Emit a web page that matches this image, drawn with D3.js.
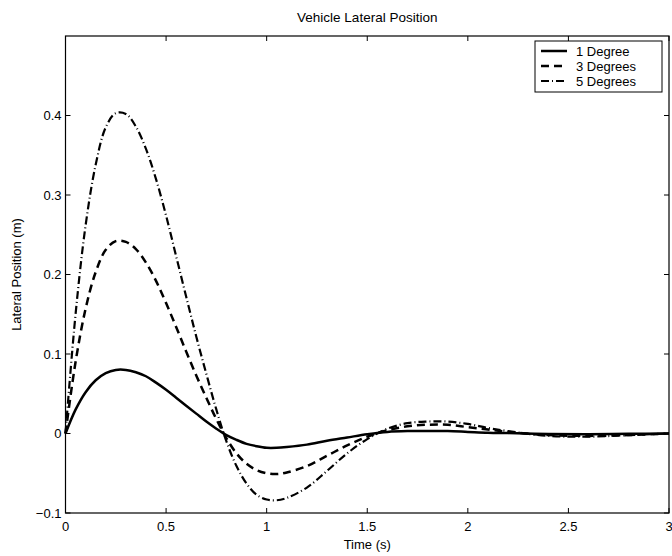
<!DOCTYPE html>
<html>
<head>
<meta charset="utf-8">
<script src="https://cdn.jsdelivr.net/npm/d3@7"></script>
<style>
  body { margin: 0; background: #fff; }
  text { font-family: "Liberation Sans", Arial, sans-serif; fill: #000; }
</style>
</head>
<body>
<div id="chart"></div>
<script>
// time samples (s)
const times = [0, 0.05, 0.1, 0.15, 0.2, 0.25, 0.3, 0.35, 0.4, 0.45, 0.5, 0.55, 0.6, 0.65, 0.7, 0.75,
  0.8, 0.85, 0.9, 0.95, 1.0, 1.05, 1.1, 1.2, 1.3, 1.4, 1.5, 1.6, 1.7, 1.8, 1.9, 2.0, 2.1, 2.2,
  2.4, 2.6, 2.8, 3.0];

// lateral position (m)
const deg1 = [0, 0.030, 0.052, 0.067, 0.076, 0.080, 0.080, 0.077, 0.072, 0.064, 0.055, 0.045,
  0.035, 0.025, 0.015, 0.006, -0.002, -0.008, -0.013, -0.016, -0.018, -0.018, -0.017, -0.014,
  -0.009, -0.005, -0.001, 0.002, 0.003, 0.003, 0.003, 0.002, 0.001, 0.0005, -0.0005, -0.0008,
  -0.0004, 0];
const deg3 = [0, 0.090, 0.157, 0.203, 0.231, 0.242, 0.241, 0.232, 0.215, 0.192, 0.164, 0.134,
  0.103, 0.073, 0.045, 0.018, -0.006, -0.025, -0.038, -0.046, -0.050, -0.051, -0.049, -0.041,
  -0.028, -0.015, -0.004, 0.004, 0.009, 0.011, 0.011, 0.008, 0.005, 0.002, -0.002, -0.003,
  -0.002, 0];
const deg5 = [0, 0.150, 0.262, 0.338, 0.385, 0.403, 0.402, 0.386, 0.358, 0.320, 0.274, 0.223,
  0.172, 0.122, 0.075, 0.030, -0.010, -0.041, -0.063, -0.077, -0.083, -0.084, -0.081, -0.068,
  -0.047, -0.025, -0.007, 0.006, 0.013, 0.015, 0.015, 0.012, 0.007, 0.003, -0.003, -0.004,
  -0.002, 0];

const seriesNames = [`1 Degree`, `3 Degrees`, `5 Degrees`];
const xTicks = [0, 0.5, 1, 1.5, 2, 2.5, 3];
const yTicks = [-0.1, 0, 0.1, 0.2, 0.3, 0.4];

const W = 672, H = 556;
const M = {left: 65.5, right: 669, top: 36, bottom: 513};

const svg = d3.select(`#chart`).append(`svg`)
  .attr(`width`, W).attr(`height`, H);

const x = d3.scaleLinear().domain([0, 3]).range([M.left, M.right]);
const y = d3.scaleLinear().domain([-0.1, 0.5]).range([M.bottom, M.top]);

// line styles per series
const styles = [
  {dash: null, width: 2.5},
  {dash: `8,5`, width: 2.5},
  {dash: `8,3,1,3`, width: 2.2}
];

// plot box
svg.append(`rect`)
  .attr(`x`, M.left).attr(`y`, M.top)
  .attr(`width`, M.right - M.left).attr(`height`, M.bottom - M.top)
  .attr(`fill`, `none`).attr(`stroke`, `#000`).attr(`stroke-width`, 1.2);

// ticks (inward, mirrored on top/right)
const tickLen = 5;
const fmt = d3.format(`.1~f`);
xTicks.forEach(t => {
  svg.append(`line`).attr(`x1`, x(t)).attr(`x2`, x(t))
    .attr(`y1`, M.bottom).attr(`y2`, M.bottom - tickLen).attr(`stroke`, `#000`);
  svg.append(`line`).attr(`x1`, x(t)).attr(`x2`, x(t))
    .attr(`y1`, M.top).attr(`y2`, M.top + tickLen).attr(`stroke`, `#000`);
  svg.append(`text`).attr(`x`, x(t)).attr(`y`, M.bottom + 18)
    .attr(`text-anchor`, `middle`).attr(`font-size`, 13)
    .text(fmt(t));
});
yTicks.forEach(t => {
  svg.append(`line`).attr(`x1`, M.left).attr(`x2`, M.left + tickLen)
    .attr(`y1`, y(t)).attr(`y2`, y(t)).attr(`stroke`, `#000`);
  svg.append(`line`).attr(`x1`, M.right).attr(`x2`, M.right - tickLen)
    .attr(`y1`, y(t)).attr(`y2`, y(t)).attr(`stroke`, `#000`);
  svg.append(`text`).attr(`x`, M.left - 4).attr(`y`, y(t)).attr(`dy`, `0.35em`)
    .attr(`text-anchor`, `end`).attr(`font-size`, 13)
    .text(t < 0 ? `\u2212` + fmt(-t) : fmt(t));
});

// curves
const line = d3.line()
  .x(d => x(d[0]))
  .y(d => y(d[1]))
  .curve(d3.curveCatmullRom);

[deg1, deg3, deg5].forEach((vals, i) => {
  svg.append(`path`)
    .datum(times.map((t, j) => [t, vals[j]]))
    .attr(`d`, line)
    .attr(`fill`, `none`)
    .attr(`stroke`, `#000`)
    .attr(`stroke-width`, styles[i].width)
    .attr(`stroke-dasharray`, styles[i].dash);
});

// titles
svg.append(`text`).attr(`x`, (M.left + M.right) / 2).attr(`y`, 22)
  .attr(`text-anchor`, `middle`).attr(`font-size`, 13.5)
  .text(`Vehicle Lateral Position`);
svg.append(`text`).attr(`x`, (M.left + M.right) / 2).attr(`y`, 549)
  .attr(`text-anchor`, `middle`).attr(`font-size`, 13)
  .text(`Time (s)`);
svg.append(`text`)
  .attr(`transform`, `translate(21,${(M.top + M.bottom) / 2}) rotate(-90)`)
  .attr(`text-anchor`, `middle`).attr(`font-size`, 13)
  .text(`Lateral Position (m)`);

// legend
const lg = svg.append(`g`).attr(`transform`, `translate(535,41)`);
lg.append(`rect`).attr(`width`, 127).attr(`height`, 51)
  .attr(`fill`, `#fff`).attr(`stroke`, `#000`).attr(`stroke-width`, 1);
seriesNames.forEach((name, i) => {
  const yy = 10 + i * 15;
  lg.append(`line`).attr(`x1`, 6).attr(`x2`, 32).attr(`y1`, yy).attr(`y2`, yy)
    .attr(`stroke`, `#000`)
    .attr(`stroke-width`, styles[i].width)
    .attr(`stroke-dasharray`, styles[i].dash);
  lg.append(`text`).attr(`x`, 41).attr(`y`, yy).attr(`dy`, `0.35em`)
    .attr(`font-size`, 13).text(name);
});
</script>
</body>
</html>
